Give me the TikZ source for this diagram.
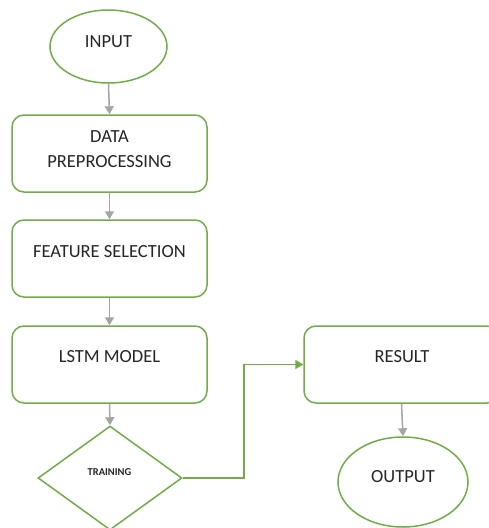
\documentclass[tikz,border=0pt]{standalone}
\usepackage{fontspec}
\setmainfont{Carlito}
\usetikzlibrary{shapes.geometric,arrows.meta}
\definecolor{ogreen}{HTML}{70AD47}
\definecolor{ogray}{HTML}{A5A5A5}
\tikzset{
  box/.style={draw=ogreen, line width=1.5pt, rounded corners=12pt, minimum width=195pt, minimum height=77pt, inner sep=0pt, fill=white},
  oval/.style={draw=ogreen, line width=1.5pt, ellipse, inner sep=0pt, fill=white},
  dia/.style={draw=ogreen, line width=1.5pt, diamond, inner sep=0pt, minimum width=144pt, minimum height=104pt, fill=white},
  txt/.style={font=\fontsize{18.5}{25}\selectfont, text=black!85, align=center, inner sep=0pt},
  smalltxt/.style={font=\fontsize{10.5}{12}\selectfont\bfseries, text=black!85, inner sep=0pt},
  garrow/.style={draw=ogray, line width=1.5pt, -{Triangle[length=8pt,width=9pt]}},
  grarrow/.style={draw=ogreen, line width=1.5pt, -{Triangle[length=8pt,width=9pt]}}
}
\begin{document}
\begin{tikzpicture}[x=1pt,y=-1pt]
\useasboundingbox (0,0) rectangle (488,528);
\node[oval, minimum width=117pt, minimum height=73pt] (input) at (108.5,46.5) {};
\node[txt] (tinput) at (108.5,42) {INPUT};
\node[box] (data) at (109.5,153.5) {};
\node[txt] (tdata) at (109.5,149.5) {DATA\\PREPROCESSING};
\node[box] (feat) at (109.5,258.5) {};
\node[txt] (tfeat) at (109.5,252) {FEATURE SELECTION};
\node[box] (lstm) at (109.5,364.5) {};
\node[txt] (tlstm) at (109.5,357) {LSTM MODEL};
\node[dia] (train) at (110,478) {};
\node[smalltxt] (ttrain) at (109.5,472) {TRAINING};
\node[box] (result) at (401.5,364.5) {};
\node[txt] (tresult) at (402,357) {RESULT};
\node[oval, minimum width=130pt, minimum height=90pt] (output) at (403,482) {};
\node[txt] (toutput) at (403,477) {OUTPUT};
\draw[garrow] (input.south) -- (data.north);
\draw[garrow] (data.south) -- (feat.north);
\draw[garrow] (feat.south) -- (lstm.north);
\draw[garrow] (lstm.south) -- (train.north);
\draw[garrow] (result.south) -- (output.north);
\draw[grarrow] (train.east) -- ++(61,0) |- (result.west);
\end{tikzpicture}
\end{document}
